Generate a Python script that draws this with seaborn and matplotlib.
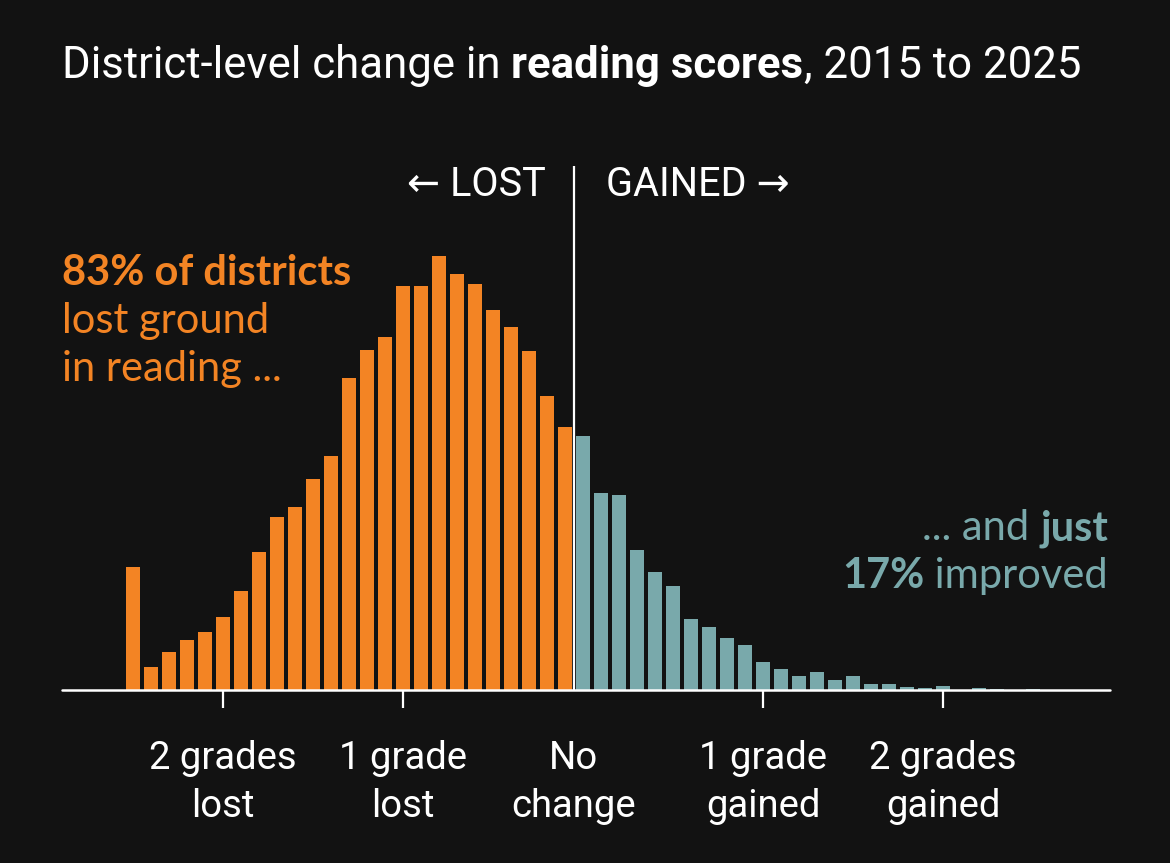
import numpy as np
import pandas as pd
import matplotlib
matplotlib.use('Agg')
import matplotlib.pyplot as plt
import seaborn as sns

# bin centers are in grade levels (bins 0.1 grade wide)
lost_counts = [123, 23, 38, 50, 58, 73, 99, 138, 173, 183, 211, 234, 312,
               340, 353, 404, 404, 434, 416, 406, 380, 363, 339, 294, 263]
gained_counts = [254, 197, 195, 140, 118, 104, 71, 63, 52, 45, 28, 21, 14,
                 18, 10, 14, 6, 6, 3, 2, 4, 0, 2, 1, 0, 1]
bin_centers = np.round(np.arange(-25, 26) * 0.1, 2)
tick_pos = [-2, -1, -0.05, 1, 2]
tick_labels = ['2 grades\nlost', '1 grade\nlost', 'No\nchange',
               '1 grade\ngained', '2 grades\ngained']

BG = '#121212'
ORANGE = '#f38424'
TEAL = '#79a9ab'
W, H = 1170, 863

sns.set_theme(style='dark')
plt.rcParams['font.family'] = ['Roboto', 'DejaVu Sans']

df = pd.DataFrame({
    'x': bin_centers,
    'count': lost_counts + gained_counts,
    'side': ['lost'] * len(lost_counts) + ['gained'] * len(gained_counts),
})

fig = plt.figure(figsize=(W / 100, H / 100), dpi=100, facecolor=BG)
ax = fig.add_axes([62 / W, 1 - 690 / H, (1110 - 62) / W, (690 - 166) / H])
ax.set_facecolor(BG)

sns.barplot(data=df, x='x', y='count', hue='side',
            palette={'lost': ORANGE, 'gained': TEAL}, native_scale=True,
            dodge=False, width=0.833, saturation=1, errorbar=None,
            legend=False, linewidth=0, ax=ax)

ax.set_xlim((62 - 583) / 180, (1110 - 583) / 180)
ax.set_ylim(0, 524)
ax.axvline(-0.05, color='white', lw=1.6, zorder=5)
ax.axhline(0, color='white', lw=1.8, zorder=6, clip_on=False)

for s in ax.spines.values():
    s.set_visible(False)
ax.set_yticks([])
ax.set_xticks(tick_pos)
ax.set_xticklabels(tick_labels, color='white', fontsize=27.5, linespacing=1.37)
ax.tick_params(axis='x', length=13, width=1.6, color='white', pad=23,
               direction='out', bottom=True)
ax.xaxis.get_major_ticks()[2].tick1line.set_visible(False)
ax.set_xlabel('')
ax.set_ylabel('')
ax.grid(False)


def px(x, y):
    return x / W, 1 - y / H


# title with a bold run
fig.canvas.draw()
r = fig.canvas.get_renderer()
x0 = 62
for txt, wt in [('District-level change in ', 'normal'),
                ('reading scores', 'bold'), (', 2015 to 2025', 'normal')]:
    t = fig.text(*px(x0, 78), txt, color='white', fontsize=31.5,
                 fontweight=wt, va='baseline', ha='left')
    bb = t.get_window_extent(r)
    x0 += bb.width

fig.text(*px(546, 196), '← LOST', color='white', fontsize=28.5,
         ha='right', va='baseline')
fig.text(*px(606, 196), 'GAINED →', color='white', fontsize=28.5,
         ha='left', va='baseline')

ann = ['Lato', 'DejaVu Sans']
fs = 30
fig.text(*px(62, 285), '83% of districts', color=ORANGE, fontsize=fs,
         fontweight='bold', family=ann, va='baseline')
fig.text(*px(62, 333), 'lost ground', color=ORANGE, fontsize=fs,
         family=ann, va='baseline')
fig.text(*px(62, 381), 'in reading ...', color=ORANGE, fontsize=fs,
         family=ann, va='baseline')

t = fig.text(*px(1108, 540), 'just', color=TEAL, fontsize=fs,
             fontweight='bold', family=ann, ha='right', va='baseline')
bb = t.get_window_extent(r)
fig.text(bb.x0 / W, 1 - 540 / H, '... and ', color=TEAL, fontsize=fs,
         family=ann, ha='right', va='baseline')
t = fig.text(*px(1108, 588), ' improved', color=TEAL, fontsize=fs,
             family=ann, ha='right', va='baseline')
bb = t.get_window_extent(r)
fig.text(bb.x0 / W, 1 - 588 / H, '17%', color=TEAL, fontsize=fs,
         fontweight='bold', family=ann, ha='right', va='baseline')

fig.savefig('out.png', dpi=100, facecolor=BG)
